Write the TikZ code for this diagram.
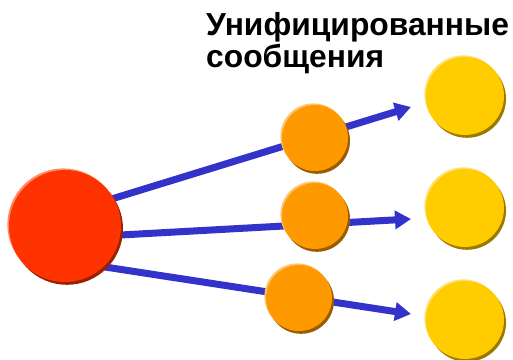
\documentclass[tikz,border=0pt]{standalone}
\usepackage{fontspec}
\setmainfont{Liberation Sans}
\usetikzlibrary{arrows.meta}
\pgfdeclarelayer{background}
\pgfsetlayers{background,main}

\definecolor{redmain}{HTML}{FF3300}
\definecolor{redlight}{HTML}{FF8A6A}
\definecolor{reddark}{HTML}{992200}
\definecolor{orgmain}{HTML}{FF9900}
\definecolor{orglight}{HTML}{FFC470}
\definecolor{orgdark}{HTML}{9A5C00}
\definecolor{ylwmain}{HTML}{FFCC00}
\definecolor{ylwlight}{HTML}{FFDF70}
\definecolor{ylwdark}{HTML}{9A7A00}
\definecolor{linkblue}{HTML}{3333CC}

\tikzset{
  ball/.style n args={4}{circle, inner sep=0pt, minimum size=#4,
    fill=#1,
    preaction={fill=#3, transform canvas={shift={(2pt,-2.8pt)}}},
    preaction={fill=#2, transform canvas={shift={(-1.6pt,1.6pt)}}}},
  source/.style={ball={redmain}{redlight}{reddark}{112pt}},
  relay/.style={ball={orgmain}{orglight}{orgdark}{66pt}},
  sink/.style={ball={ylwmain}{ylwlight}{ylwdark}{78pt}},
  link/.style={draw=linkblue, line width=7pt,
    -{Triangle[length=16pt,width=18pt]}},
  title/.style={font=\bfseries\fontsize{31.8}{32}\selectfont, inner sep=0pt,
    anchor=base west}
}

\begin{document}
\begin{tikzpicture}[x=1pt,y=-1pt]
  \useasboundingbox (0,0) rectangle (513,359);

  % title
  \node[title] (t1) at (206,35) {Унифицированные};
  \node[title] (t2) at (206,67) {сообщения};

  % source, relays and sinks
  \node[source] (src) at (65,226) {};
  \node[relay] (r1) at (315,138) {};
  \node[relay] (r2) at (315,216) {};
  \node[relay] (r3) at (299,298) {};
  \node[sink] (s1) at (465,96) {};
  \node[sink] (s2) at (465,208) {};
  \node[sink] (s3) at (465,320) {};

  % start and end points of the links
  \coordinate (a1) at (66,213);
  \coordinate (a2) at (66,238);
  \coordinate (a3) at (66,261);
  \coordinate (e1) at (411,107);
  \coordinate (e2) at (411,219);
  \coordinate (e3) at (411,314);

  \begin{pgfonlayer}{background}
    \draw[link] (a1) -- (e1);
    \draw[link] (a2) -- (e2);
    \draw[link] (a3) -- (e3);
  \end{pgfonlayer}
\end{tikzpicture}
\end{document}
